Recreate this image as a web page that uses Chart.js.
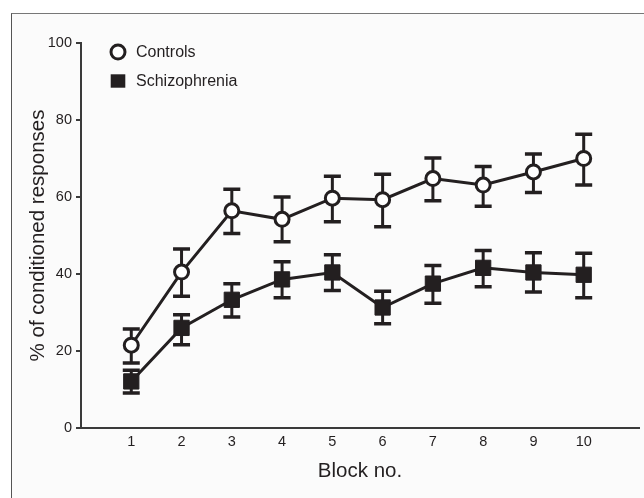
<!DOCTYPE html>
<html>
<head>
<meta charset="utf-8">
<script src="https://cdn.jsdelivr.net/npm/chart.js@4/dist/chart.umd.min.js"></script>
<style>
  html, body { margin: 0; padding: 0; background: #ffffff; }
  body { width: 644px; height: 498px; position: relative; overflow: hidden; }
  #frame { position: absolute; left: 11px; top: 12.5px; right: 0; bottom: 0;
           border-left: 1.5px solid #555; border-top: 1.5px solid #777; background: #fbfbfb; }
  #wrap { position: absolute; left: 0; top: 0; width: 644px; height: 498px; }
</style>
</head>
<body>
<div id="frame"></div>
<div id="wrap"><canvas id="c" width="644" height="498"></canvas></div>
<script>
const blocks = [1, 2, 3, 4, 5, 6, 7, 8, 9, 10];
const xTicks = [1, 2, 3, 4, 5, 6, 7, 8, 9, 10];
const yTicks = [0, 20, 40, 60, 80, 100];

const controls      = [21.5, 40.5, 56.4, 54.2, 59.7, 59.3, 64.8, 63.1, 66.5, 70.0];
const controlsUpper = [25.7, 46.5, 62.0, 60.0, 65.4, 65.9, 70.1, 67.9, 71.2, 76.3];
const controlsLower = [16.9, 34.2, 50.5, 48.4, 53.6, 52.3, 59.0, 57.6, 61.2, 63.1];

const schizo      = [12.1, 26.0, 33.3, 38.6, 40.4, 31.3, 37.5, 41.6, 40.4, 39.8];
const schizoUpper = [15.0, 29.4, 37.5, 43.2, 45.0, 35.5, 42.2, 46.1, 45.5, 45.4];
const schizoLower = [9.1, 21.6, 28.8, 33.8, 35.7, 27.1, 32.4, 36.7, 35.3, 33.8];

const INK = '#231f20';
const FONT = '"Liberation Sans", Arial, sans-serif';

const errorBars = {
  id: 'errorBars',
  beforeDatasetsDraw(chart) {
    const ctx = chart.ctx;
    const xs = chart.scales.x, ys = chart.scales.y;
    ctx.save();
    ctx.strokeStyle = INK;
    chart.data.datasets.forEach(ds => {
      ds.data.forEach((p, i) => {
        const px = xs.getPixelForValue(p.x);
        const top = ys.getPixelForValue(ds.errUpper[i]);
        const bot = ys.getPixelForValue(ds.errLower[i]);
        ctx.lineWidth = 3;
        ctx.beginPath();
        ctx.moveTo(px, top); ctx.lineTo(px, bot);
        ctx.stroke();
        ctx.lineWidth = 3.5;
        ctx.beginPath();
        ctx.moveTo(px - 8.5, top); ctx.lineTo(px + 8.5, top);
        ctx.moveTo(px - 8.5, bot); ctx.lineTo(px + 8.5, bot);
        ctx.stroke();
      });
    });
    ctx.restore();
  }
};

const customLegend = {
  id: 'customLegend',
  afterDraw(chart) {
    const ctx = chart.ctx;
    const area = chart.chartArea;
    ctx.save();
    ctx.font = '16px ' + FONT;
    ctx.textBaseline = 'middle';
    ctx.fillStyle = INK;
    chart.data.datasets.forEach((ds, i) => {
      const cx = area.left + 37;
      const cy = area.top + 9 + i * 29;
      ctx.save();
      if (ds.pointStyle === 'circle') {
        ctx.beginPath();
        ctx.arc(cx, cy, 7, 0, Math.PI * 2);
        ctx.fillStyle = '#ffffff';
        ctx.fill();
        ctx.lineWidth = 3;
        ctx.strokeStyle = INK;
        ctx.stroke();
      } else {
        ctx.fillStyle = INK;
        ctx.fillRect(cx - 7.3, cy - 6.7, 14.6, 13.4);
      }
      ctx.restore();
      ctx.fillText(ds.label, area.left + 55, cy + 0.5);
    });
    ctx.restore();
  }
};

new Chart(document.getElementById('c'), {
  type: 'line',
  data: {
    datasets: [
      {
        label: 'Controls',
        data: blocks.map((b, i) => ({ x: b, y: controls[i] })),
        errUpper: controlsUpper, errLower: controlsLower,
        borderColor: INK, borderWidth: 3,
        pointStyle: 'circle', pointRadius: 7, pointBorderWidth: 3,
        pointBackgroundColor: '#ffffff', pointBorderColor: INK,
        tension: 0, fill: false
      },
      {
        label: 'Schizophrenia',
        data: blocks.map((b, i) => ({ x: b, y: schizo[i] })),
        errUpper: schizoUpper, errLower: schizoLower,
        borderColor: INK, borderWidth: 3,
        pointStyle: 'rect', pointRadius: 10.8, pointBorderWidth: 1,
        pointBackgroundColor: INK, pointBorderColor: INK,
        tension: 0, fill: false
      }
    ]
  },
  options: {
    responsive: false,
    animation: false,
    devicePixelRatio: 1,
    layout: { autoPadding: false, padding: { left: 26, right: 5, top: 43, bottom: 14.7 } },
    plugins: { legend: { display: false }, tooltip: { enabled: false } },
    scales: {
      x: {
        type: 'linear', min: 0, max: 11.1,
        afterBuildTicks: s => { s.ticks = xTicks.map(v => ({ value: v })); },
        afterFit: s => { s.height = 55.3; },
        grid: { display: false, drawTicks: false },
        border: { display: true, color: '#3a3a3a', width: 2 },
        ticks: { color: INK, padding: 5, font: { size: 14.5, family: FONT },
                 callback: v => String(v) },
        title: { display: true, text: 'Block no.', color: INK, padding: 0,
                 font: { size: 20.5, family: FONT } }
      },
      y: {
        type: 'linear', min: 0, max: 100,
        afterBuildTicks: s => { s.ticks = yTicks.map(v => ({ value: v })); },
        afterFit: s => { s.width = 55; },
        grid: { display: true, drawOnChartArea: false, drawTicks: true, tickLength: 5, color: '#3a3a3a', lineWidth: 2 },
        border: { display: true, color: '#3a3a3a', width: 2 },
        ticks: { color: INK, padding: 4, font: { size: 14.5, family: FONT } },
        title: { display: true, text: '% of conditioned responses', color: INK, padding: 0,
                 font: { size: 20.5, family: FONT } }
      }
    }
  },
  plugins: [errorBars, customLegend]
});
</script>
</body>
</html>
